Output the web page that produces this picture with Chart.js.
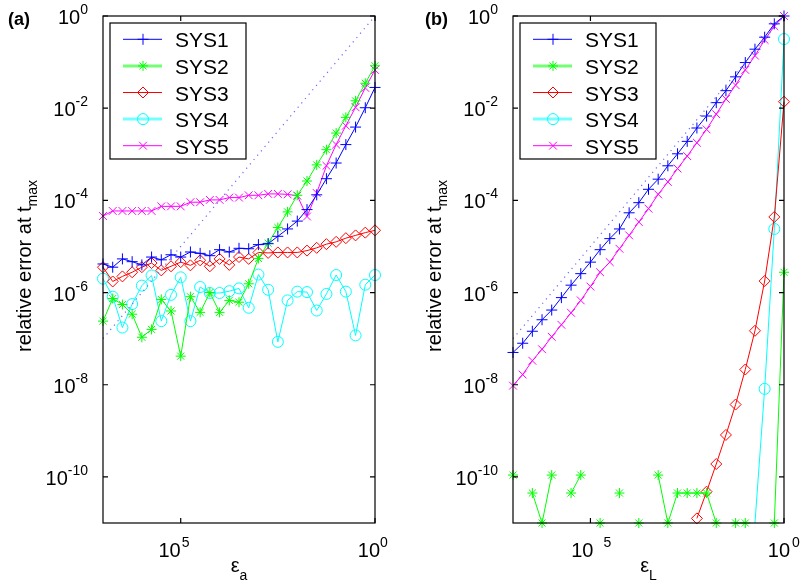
<!DOCTYPE html>
<html>
<head>
<meta charset="utf-8">
<script src="https://cdn.jsdelivr.net/npm/chart.js@4.4.0/dist/chart.umd.min.js"></script>
<style>
html, body { margin: 0; padding: 0; background: #fff; }
#wrap { position: relative; width: 802px; height: 587px; }
canvas { position: absolute; top: 0; }
#chartA { left: 0; }
#chartB { left: 401px; }
</style>
</head>
<body>
<div id="wrap">
  <canvas id="chartA" width="401" height="587"></canvas>
  <canvas id="chartB" width="401" height="587"></canvas>
</div>
<script>
// x 轴：eps 的指数 (10^-7 ... 10^0)
const epsExp = [-7, -6.75, -6.5, -6.25, -6, -5.75, -5.5, -5.25, -5, -4.75, -4.5, -4.25, -4, -3.75,
    -3.5, -3.25, -3, -2.75, -2.5, -2.25, -2, -1.75, -1.5, -1.25, -1, -0.75, -0.5, -0.25, 0];

// (a) 各系统误差 (log10)
const sys1A = [-5.38, -5.45, -5.27, -5.33, -5.40, -5.23, -5.29, -5.18, -5.23, -5.12, -5.15, -5.20, -5.07, -5.12,
    -5.04, -5.05, -4.96, -4.94, -4.78, -4.62, -4.45, -4.20, -3.88, -3.53, -3.19, -2.79, -2.41, -1.99, -1.55];
const sys2A = [-6.62, -6.13, -6.26, -6.47, -6.97, -6.80, -6.15, -6.40, -7.38, -6.09, -6.43, -6.00, -6.43, -6.17,
    -6.21, -5.81, -5.26, -4.93, -4.59, -4.25, -3.89, -3.58, -3.23, -2.90, -2.54, -2.20, -1.84, -1.46, -1.08];
const sys3A = [-5.45, -5.76, -5.65, -5.56, -5.45, -5.36, -5.52, -5.43, -5.34, -5.41, -5.30, -5.43, -5.27, -5.40,
    -5.23, -5.27, -5.13, -5.14, -5.13, -5.13, -5.13, -5.09, -5.03, -4.95, -4.90, -4.82, -4.76, -4.70, -4.65];
const sys4A = [-5.70, -6.09, -6.76, -6.25, -5.85, -5.63, -6.62, -6.05, -5.67, -6.62, -5.88, -6.01, -6.01, -5.97,
    -5.91, -6.33, -5.61, -5.94, -7.07, -6.17, -5.98, -5.99, -6.39, -6.03, -5.62, -5.98, -6.93, -5.83, -5.62];
const sys5A = [-4.34, -4.23, -4.23, -4.23, -4.23, -4.23, -4.13, -4.13, -4.13, -4.04, -4.04, -3.99, -3.99, -3.94,
    -3.94, -3.89, -3.89, -3.86, -3.86, -3.87, -3.90, -4.35, -3.84, -3.25, -2.79, -2.38, -1.98, -1.56, -1.17];

// (b) 各系统误差 (log10)，null 表示无值
const sys1B = [-7.30, -7.10, -6.84, -6.59, -6.38, -6.11, -5.84, -5.59, -5.34, -5.07, -4.83, -4.62, -4.27, -4.05,
    -3.76, -3.54, -3.25, -2.99, -2.72, -2.43, -2.17, -1.88, -1.62, -1.32, -1.01, -0.72, -0.46, -0.17, 0];
const sys2B = [-9.96, null, -10.35, -11, -9.96, null, -10.35, -9.96, null, -11, null, -10.35, null, -11,
    null, -9.96, -11, -10.35, -10.35, -10.35, -10.35, -11, null, -11, -11, null, null, -11, -5.56];
const sys3B = [null, null, null, null, null, null, null, null, null, null, null, null, null, null,
    null, null, null, null, null, -10.9, -10.32, -9.72, -9.09, -8.43, -7.67, -6.83, -5.75, -4.36, -1.86];
const sys4B = [null, null, null, null, null, null, null, null, null, null, null, null, null, null,
    null, null, null, null, null, null, null, null, null, null, null, -11, -8.09, -4.62, -0.5];
const sys5B = [-8.02, -7.78, -7.48, -7.23, -6.96, -6.70, -6.44, -6.17, -5.87, -5.56, -5.34, -5.05, -4.76, -4.47,
    -4.18, -3.87, -3.60, -3.31, -3.04, -2.75, -2.46, -2.13, -1.80, -1.50, -1.17, -0.86, -0.52, -0.22, 0];

// 参考线 y = x
const refLine = [1e-7, 1];

// 刻度
const yTickVals = [1, 1e-2, 1e-4, 1e-6, 1e-8, 1e-10];
const yTickSup = ['0', '-2', '-4', '-6', '-8', '-10'];
const xTickVals = [1e-5, 1];
const xTickSup = ['5', '0'];

const seriesNames = ['SYS1', 'SYS2', 'SYS3', 'SYS4', 'SYS5'];
const Y_MIN = 1e-11;

const FONT = '"Liberation Sans", Arial, Helvetica, sans-serif';

const styles = [
    { color: '#0000ff', pointStyle: 'cross', radius: 5.5, legendWidth: 1 },
    { color: '#00ff00', pointStyle: 'star', radius: 5, legendWidth: 3 },
    { color: '#ff0000', pointStyle: 'rectRot', radius: 5.5, legendWidth: 1 },
    { color: '#00ffff', pointStyle: 'circle', radius: 5.5, legendWidth: 3 },
    { color: '#ff00ff', pointStyle: 'crossRot', radius: 5.5, legendWidth: 1 }
];

function toPoints(logs) {
    return epsExp.map((e, i) => ({
        x: Math.pow(10, e),
        y: logs[i] === null ? null : Math.pow(10, logs[i])
    }));
}

// 画 10^n 形式的文字
function drawPower(ctx, sup, x, y, align, supDx) {
    ctx.font = '20px ' + FONT;
    ctx.textAlign = 'left';
    const w10 = ctx.measureText('10').width;
    ctx.font = '14px ' + FONT;
    const wSup = ctx.measureText(sup).width;
    let x0 = x;
    if (align === 'right') x0 = x - w10 - wSup;
    ctx.font = '20px ' + FONT;
    ctx.fillText('10', x0, y);
    ctx.font = '14px ' + FONT;
    ctx.fillText(sup, x0 + w10 + (supDx || 0), y - 10);
}

function makePlugin(panel) {
    return {
        id: 'matlabAxes' + panel.tag,
        afterDraw(chart) {
            const ctx = chart.ctx;
            const a = chart.chartArea;
            const xs = chart.scales.x, ys = chart.scales.y;
            ctx.save();
            ctx.fillStyle = '#000';
            ctx.strokeStyle = '#000';
            ctx.textBaseline = 'alphabetic';

            // 坐标框
            ctx.lineWidth = 1.2;
            ctx.strokeRect(a.left, a.top, a.right - a.left, a.bottom - a.top);

            // y 刻度
            yTickVals.forEach((v, i) => {
                const y = ys.getPixelForValue(v);
                ctx.beginPath();
                ctx.moveTo(a.left, y); ctx.lineTo(a.left + 5, y);
                ctx.moveTo(a.right, y); ctx.lineTo(a.right - 5, y);
                ctx.stroke();
                drawPower(ctx, yTickSup[i], a.left - 15, y + 8, 'right');
            });

            // x 刻度
            xTickVals.forEach((v, i) => {
                const x = xs.getPixelForValue(v);
                ctx.beginPath();
                ctx.moveTo(x, a.bottom); ctx.lineTo(x, a.bottom - 5);
                ctx.moveTo(x, a.top); ctx.lineTo(x, a.top + 5);
                ctx.stroke();
                ctx.font = '20px ' + FONT;
                const w10 = ctx.measureText('10').width;
                const p = panel.xLabel[i];
                drawPower(ctx, xTickSup[i], x + p.dx - w10, a.bottom + 34, 'left', p.supDx);
            });

            // x 轴标题
            const cx = (a.left + a.right) / 2;
            ctx.font = '20px ' + FONT;
            const wEps = ctx.measureText('ε').width;
            ctx.font = '14px ' + FONT;
            const wSub = ctx.measureText(panel.xSub).width;
            const x0 = cx - (wEps + wSub) / 2;
            ctx.font = '20px ' + FONT;
            ctx.textAlign = 'left';
            ctx.fillText('ε', x0, a.bottom + 49);
            ctx.font = '14px ' + FONT;
            ctx.fillText(panel.xSub, x0 + wEps, a.bottom + 57);

            // y 轴标题 (旋转)
            ctx.save();
            ctx.translate(a.left - 72, 266);
            ctx.rotate(-Math.PI / 2);
            ctx.font = '20px ' + FONT;
            const mainTxt = 'relative error at t';
            const wMain = ctx.measureText(mainTxt).width;
            ctx.font = '14px ' + FONT;
            const wMax = ctx.measureText('max').width;
            const u0 = -(wMain + wMax) / 2;
            ctx.font = '20px ' + FONT;
            ctx.fillText(mainTxt, u0, 0);
            ctx.font = '14px ' + FONT;
            ctx.fillText('max', u0 + wMain, 6);
            ctx.restore();

            // 面板标记
            ctx.font = 'bold 18px ' + FONT;
            ctx.fillText(panel.tag, panel.tagX, 25);

            // 图例
            const bx = a.left + 7, by = 23, bw = 136, bh = 136;
            ctx.fillStyle = '#fff';
            ctx.fillRect(bx, by, bw, bh);
            ctx.lineWidth = 1.2;
            ctx.strokeStyle = '#000';
            ctx.strokeRect(bx, by, bw, bh);
            seriesNames.forEach((name, i) => {
                const st = styles[i];
                const ly = by + 16.3 + i * 26.6;
                ctx.save();
                ctx.strokeStyle = st.color;
                ctx.globalAlpha = st.legendWidth > 1 ? 0.55 : 1;
                ctx.lineWidth = st.legendWidth;
                ctx.beginPath();
                ctx.moveTo(bx + 13, ly); ctx.lineTo(bx + 52, ly);
                ctx.stroke();
                ctx.globalAlpha = 1;
                ctx.lineWidth = 1;
                ctx.fillStyle = 'rgba(0,0,0,0)';
                Chart.helpers.drawPoint(ctx, {
                    pointStyle: st.pointStyle, radius: st.radius, rotation: 0, borderWidth: 1
                }, bx + 33, ly);
                ctx.restore();
                ctx.fillStyle = '#000';
                ctx.font = '21px ' + FONT;
                ctx.textAlign = 'left';
                ctx.fillText(name, bx + 65, ly + 8);
            });
            ctx.restore();
        }
    };
}

function makeChart(canvasId, series, panel) {
    const datasets = [{
        data: refLine.map(v => ({ x: v, y: v })),
        borderColor: '#6a6aff',
        borderWidth: 1.2,
        borderDash: [1.2, 4.5],
        pointRadius: 0,
        clip: false
    }];
    series.forEach((logs, i) => {
        const st = styles[i];
        datasets.push({
            label: seriesNames[i],
            data: toPoints(logs),
            borderColor: st.color,
            borderWidth: 1,
            pointStyle: st.pointStyle,
            pointRadius: i === 3 ? (c => (c.raw && c.raw.y !== null && c.raw.y <= Y_MIN) ? 0 : st.radius) : st.radius,
            pointBorderColor: st.color,
            pointBackgroundColor: 'rgba(0,0,0,0)',
            pointBorderWidth: 1,
            tension: 0,
            spanGaps: false,
            clip: false
        });
    });

    return new Chart(document.getElementById(canvasId), {
        type: 'line',
        data: { datasets },
        options: {
            responsive: false,
            animation: false,
            events: [],
            layout: { padding: panel.padding },
            plugins: { legend: { display: false }, tooltip: { enabled: false } },
            scales: {
                x: { type: 'logarithmic', min: 1e-7, max: 1, display: false },
                y: { type: 'logarithmic', min: Y_MIN, max: 1, display: false }
            }
        },
        plugins: [makePlugin(panel)]
    });
}

document.addEventListener('DOMContentLoaded', () => {
    makeChart('chartA', [sys1A, sys2A, sys3A, sys4A, sys5A], {
        tag: '(a)', tagX: 8, xSub: 'a',
        padding: { left: 103, right: 26, top: 16, bottom: 64 },
        xLabel: [{ dx: 0, supDx: 1 }, { dx: 5, supDx: 0 }]
    });
    makeChart('chartB', [sys1B, sys2B, sys3B, sys4B, sys5B], {
        tag: '(b)', tagX: 24, xSub: 'L',
        padding: { left: 112, right: 18, top: 16, bottom: 64 },
        xLabel: [{ dx: 3, supDx: 10 }, { dx: 6, supDx: 2 }]
    });
});
</script>
</body>
</html>
